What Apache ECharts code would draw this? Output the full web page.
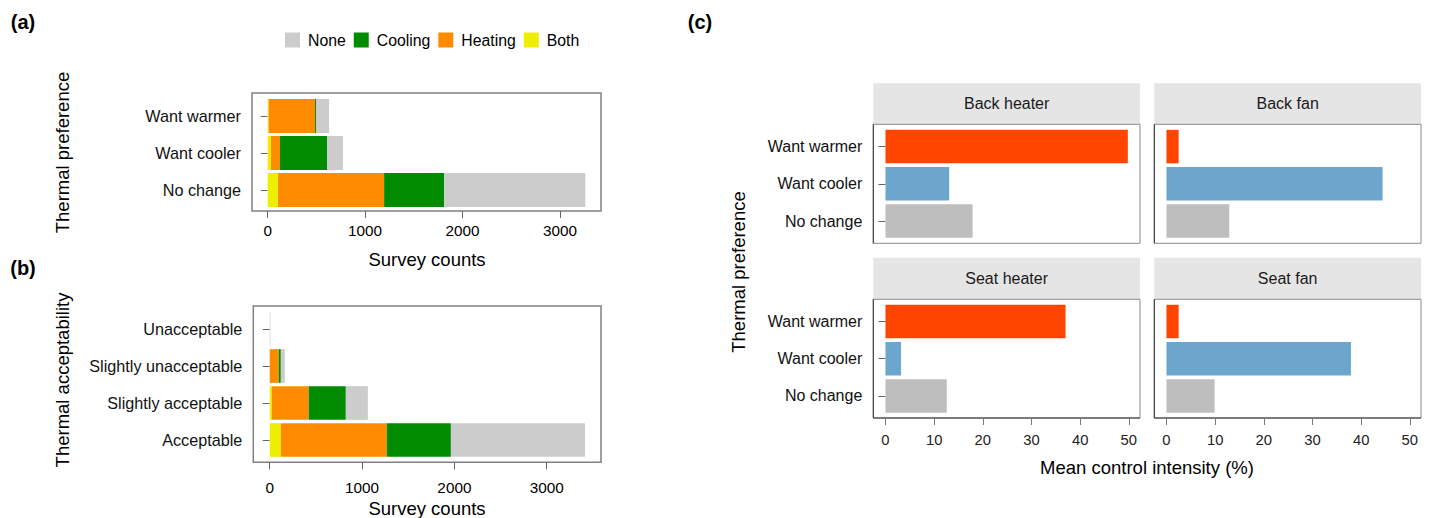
<!DOCTYPE html>
<html><head><meta charset="utf-8">
<script src="https://cdn.jsdelivr.net/npm/echarts@6/dist/echarts.min.js"></script>
<style>html,body{margin:0;padding:0;background:#fff}#c{width:1433px;height:518px}</style>
</head><body><div id="c"></div>
<script>
// ---------------- data ----------------
const prefCategories = ['No change', 'Want cooler', 'Want warmer'];
const accCategories = ['Acceptable', 'Slightly acceptable', 'Slightly unacceptable', 'Unacceptable'];
const controlTypes = ['None', 'Cooling', 'Heating', 'Both'];
const prefBoth = [106, 34, 10];
const prefHeating = [1089, 92, 476];
const prefCooling = [616, 483, 10];
const prefNone = [1449, 164, 134];
const accBoth = [119, 22, 0, 0];
const accHeating = [1149, 401, 98, 0];
const accCooling = [694, 401, 22, 0];
const accNone = [1453, 239, 43, 7];
const countTicks = [0, 1000, 2000, 3000];
const facetNames = ['Back heater', 'Back fan', 'Seat heater', 'Seat fan'];
const backHeater = [17.9, 13.1, 49.8];
const backFan = [12.9, 44.4, 2.5];
const seatHeater = [12.6, 3.2, 37.0];
const seatFan = [9.9, 37.9, 2.5];
const intensityTicks = [0, 10, 20, 30, 40, 50];

// ---------------- styles ----------------
const FF = '"Liberation Sans", Arial, Helvetica, sans-serif';
const typeColors = { None: '#CCCCCC', Cooling: '#008B00', Heating: '#FF8C00', Both: '#EEEE00' };
const prefColors = { 'No change': '#BEBEBE', 'Want cooler': '#6CA6CD', 'Want warmer': '#FF4500' };
const plain = function (v) { return String(v); };

const chart = echarts.init(document.getElementById('c'), null, { renderer: 'svg' });

const grids = [
  { left: 252, top: 97.5, width: 349, height: 111 },
  { left: 253.3, top: 310.5, width: 347.7, height: 148 },
  { left: 873.3, top: 128, width: 266.7, height: 111.6 },
  { left: 1154.3, top: 128, width: 266.7, height: 111.6 },
  { left: 873.3, top: 302.9, width: 266.7, height: 111.6 },
  { left: 1154.3, top: 302.9, width: 266.7, height: 111.6 }
];

function countAxis(idx, min, max, offset, margin) {
  return {
    type: 'value', gridIndex: idx, min: min, max: max, offset: offset,
    axisLine: { show: false }, splitLine: { show: false },
    axisTick: { show: true, length: 7, customValues: countTicks, lineStyle: { color: '#666', width: 1 } },
    axisLabel: { customValues: countTicks, formatter: plain, margin: margin, fontSize: 15.3, color: '#000', fontFamily: FF }
  };
}
function catAxis(idx, cats, showLabels, fs) {
  return {
    type: 'category', gridIndex: idx, data: cats,
    axisLine: { show: false },
    axisTick: { show: showLabels, alignWithLabel: true, length: showLabels ? 7 : 0, lineStyle: { color: '#666', width: 1 } },
    axisLabel: { show: showLabels, margin: 11, fontSize: fs, color: '#111', fontFamily: FF }
  };
}
function facetXAxis(idx, bottom) {
  return {
    type: 'value', gridIndex: idx, min: -2.5, max: 52.3, offset: bottom ? 3.5 : 0,
    axisLine: { show: false }, splitLine: { show: false },
    axisTick: { show: bottom, length: 7, customValues: intensityTicks, lineStyle: { color: '#777', width: 1 } },
    axisLabel: { show: bottom, customValues: intensityTicks, formatter: plain, margin: 14, fontSize: 14.8, color: '#222', fontFamily: FF }
  };
}

const xAxes = [
  countAxis(0, -161, 3421, 2.5, 12),
  countAxis(1, -178, 3588, 3.8, 18),
  facetXAxis(2, false), facetXAxis(3, false), facetXAxis(4, true), facetXAxis(5, true)
];
const yAxes = [
  catAxis(0, prefCategories, true, 16.2),
  catAxis(1, accCategories, true, 16.2),
  catAxis(2, prefCategories, true, 16),
  catAxis(3, prefCategories, false, 16),
  catAxis(4, prefCategories, true, 16),
  catAxis(5, prefCategories, false, 16)
];

const series = [];
const prefStack = { Both: prefBoth, Heating: prefHeating, Cooling: prefCooling, None: prefNone };
const accStack = { Both: accBoth, Heating: accHeating, Cooling: accCooling, None: accNone };
['Both', 'Heating', 'Cooling', 'None'].forEach(function (name) {
  series.push({ type: 'bar', name: name, stack: 'pref', xAxisIndex: 0, yAxisIndex: 0,
    barWidth: 34, data: prefStack[name], itemStyle: { color: typeColors[name] }, silent: true });
  series.push({ type: 'bar', name: name, stack: 'acc', xAxisIndex: 1, yAxisIndex: 1,
    barWidth: 33.7, data: accStack[name], itemStyle: { color: typeColors[name] }, silent: true });
});
[backHeater, backFan, seatHeater, seatFan].forEach(function (vals, i) {
  series.push({
    type: 'bar', name: facetNames[i], xAxisIndex: i + 2, yAxisIndex: i + 2, barWidth: 33.5, silent: true,
    data: vals.map(function (v, k) { return { value: v, itemStyle: { color: prefColors[prefCategories[k]] } }; })
  });
});

// ---------------- decorations ----------------
const graphic = [];
function txt(text, x, y, opts) {
  opts = opts || {};
  graphic.push({
    type: 'text', x: x, y: y, rotation: opts.rot || 0, silent: true,
    style: { text: text, fill: opts.color || '#000', textAlign: 'center', textVerticalAlign: 'middle',
      font: (opts.weight || 'normal') + ' ' + (opts.size || 18.5) + 'px ' + FF }
  });
}
// boxes (a),(b)
graphic.push({ type: 'rect', silent: true, shape: { x: 252, y: 93, width: 349, height: 118 },
  style: { fill: 'none', stroke: '#808080', lineWidth: 1.5 } });
graphic.push({ type: 'rect', silent: true, shape: { x: 253.3, y: 306, width: 347.7, height: 156.3 },
  style: { fill: 'none', stroke: '#808080', lineWidth: 1.5 } });
// facets
const colX = [873.3, 1154.3], stripY = [83.3, 257.7], panelY = [124.3, 299.3], panelH = [119, 118.7];
for (let r = 0; r < 2; r++) for (let c = 0; c < 2; c++) {
  const x = colX[c], w = 266.7;
  graphic.push({ type: 'rect', silent: true, shape: { x: x, y: stripY[r], width: w, height: panelY[r] - stripY[r] },
    style: { fill: '#E5E5E5', stroke: 'none' } });
  txt(facetNames[r * 2 + c], x + w / 2, (stripY[r] + panelY[r]) / 2, { size: 16, color: '#1a1a1a' });
  graphic.push({ type: 'rect', silent: true, shape: { x: x, y: panelY[r], width: w, height: panelH[r] },
    style: { fill: 'none', stroke: '#8a8a8a', lineWidth: 1 } });
  graphic.push({ type: 'line', silent: true, shape: { x1: x, y1: panelY[r], x2: x, y2: panelY[r] + panelH[r] },
    style: { stroke: '#333', lineWidth: 1 } });
  if (r === 1) graphic.push({ type: 'line', silent: true, shape: { x1: x, y1: panelY[r] + panelH[r], x2: x + w, y2: panelY[r] + panelH[r] },
    style: { stroke: '#333', lineWidth: 1 } });
}
txt('(a)', 23, 22, { weight: 'bold', size: 20 });
txt('(b)', 23, 268, { weight: 'bold', size: 20 });
txt('(c)', 700, 22, { weight: 'bold', size: 20 });
txt('Survey counts', 427, 259);
txt('Survey counts', 427, 508);
txt('Thermal preference', 62.5, 152.5, { rot: Math.PI / 2 });
txt('Thermal acceptability', 62.5, 380, { rot: Math.PI / 2 });
txt('Thermal preference', 738, 272, { rot: Math.PI / 2 });
txt('Mean control intensity (%)', 1147, 467);

chart.setOption({
  animation: false,
  backgroundColor: '#fff',
  textStyle: { fontFamily: FF },
  legend: {
    data: controlTypes, left: 280, top: 27, padding: 5, icon: 'rect', itemWidth: 15, itemHeight: 15, itemGap: 8,
    selectedMode: false,
    textStyle: { fontSize: 15.8, color: '#000', fontFamily: FF, padding: [0, 0, 0, 3] }
  },
  grid: grids,
  xAxis: xAxes,
  yAxis: yAxes,
  series: series,
  graphic: graphic
});
</script>
</body></html>
